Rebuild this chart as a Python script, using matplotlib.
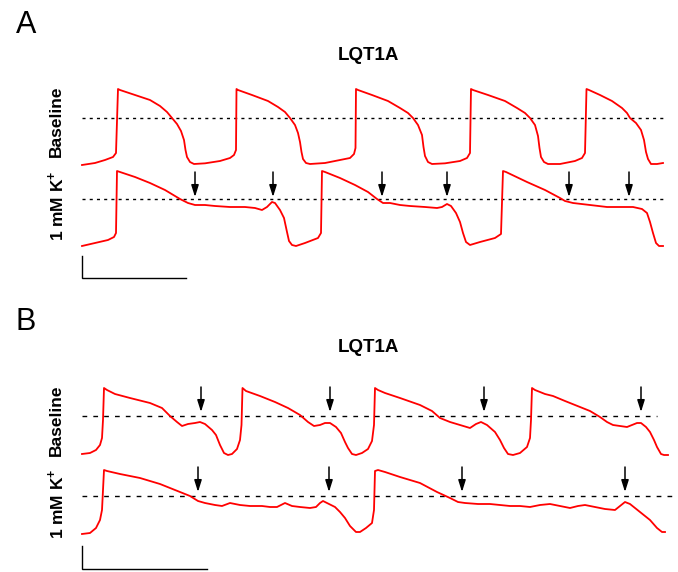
import numpy as np
import matplotlib.pyplot as plt

plt.rcParams['font.family'] = ['Liberation Sans', 'DejaVu Sans']
plt.rcParams['mathtext.fontset'] = 'custom'
plt.rcParams['mathtext.rm'] = 'Liberation Sans:bold'
plt.rcParams['mathtext.bf'] = 'Liberation Sans:bold'

# ---- data (time in ms, membrane potential in mV) ----
# Panel A, baseline
a_base_t = [0, 130, 230, 310, 340, 360, 380, 530, 680, 780, 850, 900, 950, 990, 1020, 1035, 1050, 1080,
            1120, 1230, 1380, 1480, 1520, 1540, 1545, 1560, 1700, 1860, 1960, 2030, 2080, 2130, 2160,
            2180, 2195, 2210, 2240, 2280, 2430, 2580, 2680, 2720, 2735, 2740, 2760, 2900, 3060, 3180,
            3260, 3310, 3360, 3400, 3415, 3430, 3460, 3500, 3630, 3780, 3850, 3880, 3890, 3910, 4060,
            4230, 4350, 4430, 4480, 4530, 4560, 4575, 4590, 4620, 4660, 4780, 4930, 5000, 5030, 5045,
            5070, 5180, 5300, 5400, 5450, 5480, 5540, 5590, 5620, 5640, 5660, 5690, 5750, 5810]
a_base_v = [-86.5, -83.5, -79, -74.5, -68.5, 27.5, 26, 18.5, 11, 2, -7, -16, -25, -35.5, -49, -64, -74.5, -82,
            -85, -84, -80.5, -76, -71.5, -64, 27.5, 26, 18.5, 9.5, 0.5, -7, -16, -26.5, -38.5,
            -52, -67, -77.5, -83.5, -85, -83.5, -79, -76, -70, -61, 27.5, 26, 18.5, 9.5, -1,
            -8.5, -16, -26.5, -41.5, -59.5, -73, -82, -85, -84, -80.5, -76, -68.5, 27.5, 26, 18.5,
            9.5, -1, -8.5, -16, -26.5, -43, -61, -74.5, -82, -85, -85, -80.5, -76, -68.5, 27.5,
            26, 18.5, 9.5, -1, -8.5, -16, -23.5, -34, -49, -67, -77.5, -85, -85, -83.5]

# Panel A, 1 mM K+
a_k_t = [0, 130, 260, 320, 340, 350, 380, 530, 680, 830, 930, 980, 1060, 1130, 1230, 1330, 1480, 1630,
         1730, 1800, 1850, 1900, 1930, 1980, 2020, 2050, 2070, 2100, 2140, 2230, 2360, 2390, 2400,
         2430, 2580, 2730, 2860, 2950, 3010, 3080, 3180, 3280, 3430, 3550, 3600, 3650, 3690, 3740,
         3780, 3810, 3840, 3880, 3980, 4130, 4190, 4210, 4240, 4450, 4630, 4780, 4830, 4910, 5080,
         5250, 5510, 5600, 5650, 5680, 5710, 5740, 5770, 5810]
a_k_v = [-85, -80.5, -76, -71.5, -65.5, 27.5, 26, 18.5, 9.5, -1, -10, -14.5, -20.5, -23.5, -23.5, -25, -26.5, -26.5,
         -28, -31, -26.5, -19, -20.5, -31, -43, -64, -77.5, -83.5, -85, -80.5, -73, -65.5, 27.5,
         26, 17, 6.5, -4, -14.5, -20.5, -20.5, -23.5, -25, -26.5, -28, -26.5, -22, -25, -35.5,
         -49, -65.5, -79, -83.5, -79, -73, -67, 27.5, 26, 11, -1, -13, -17.5, -20.5, -23.5,
         -26.5, -26.5, -29.5, -35.5, -49, -65.5, -80.5, -85, -85]

# Panel B, baseline
b_base_t = [0, 80, 140, 180, 200, 210, 220, 250, 330, 480, 680, 800, 880, 950, 1000, 1060, 1130, 1180,
            1230, 1300, 1340, 1380, 1420, 1460, 1500, 1550, 1580, 1595, 1605, 1640, 1780, 1930, 2060,
            2180, 2260, 2320, 2380, 2430, 2480, 2540, 2590, 2630, 2660, 2700, 2740, 2800, 2860, 2900,
            2920, 2930, 2960, 3030, 3180, 3380, 3500, 3580, 3680, 3780, 3880, 3940, 3990, 4050, 4130,
            4180, 4220, 4260, 4310, 4380, 4450, 4480, 4490, 4500, 4530, 4630, 4710, 4830, 4980, 5080,
            5180, 5250, 5310, 5380, 5450, 5500, 5550, 5590, 5640, 5680, 5720, 5750, 5790, 5820, 5860]
b_base_v = [-83.5, -82, -77.5, -70, -59.5, -32.5, 15.5, 12.5, 6.5, 0.5, -7, -14.5, -26.5, -35.5, -41.5, -38.5, -37, -35.5,
            -38.5, -47.5, -55, -70, -82, -85, -83.5, -76, -62.5, -40, 15.5, 11, 3.5, -5.5, -14.5,
            -25, -35.5, -41.5, -40, -37, -37, -43, -52, -65.5, -74.5, -83.5, -85, -82, -76, -64,
            -40, 15.5, 12.5, 8, 0.5, -10, -19, -29.5, -35.5, -40, -44.5, -38.5, -35.5, -40, -50.5,
            -62.5, -74.5, -83.5, -85, -82, -73, -59.5, -32.5, 15.5, 12.5, 6.5, 3.5, -4, -13, -19,
            -28, -35.5, -40, -41.5, -43, -40, -37, -37, -43, -50.5, -62.5, -73, -83.5, -85, -85]

# Panel B, 1 mM K+
b_k_t = [0, 80, 140, 180, 200, 210, 220, 250, 380, 580, 780, 930, 1080, 1160, 1230, 1330, 1400, 1480,
         1580, 1680, 1800, 1880, 1950, 2030, 2100, 2180, 2280, 2340, 2380, 2410, 2450, 2530, 2580,
         2630, 2680, 2740, 2780, 2840, 2900, 2920, 2930, 2960, 3030, 3180, 3380, 3550, 3680, 3760,
         3830, 3960, 4080, 4180, 4280, 4380, 4480, 4580, 4680, 4780, 4880, 4960, 5030, 5130, 5230,
         5330, 5380, 5430, 5480, 5580, 5680, 5750, 5800, 5830]
b_k_v = [-86.5, -85, -77.5, -65.5, -50.5, -20.5, 9.5, 8, 3.5, -2.5, -11.5, -20.5, -29.5, -37, -40, -43, -44.5, -40,
         -43, -44.5, -44.5, -46, -46, -40, -44.5, -46, -47.5, -46, -40, -37, -40, -46, -53.5,
         -62.5, -74.5, -83.5, -83.5, -77.5, -70, -50.5, 8, 9.5, 6.5, -1, -10, -23.5, -32.5, -38.5,
         -40, -41.5, -41.5, -43, -44.5, -44.5, -46, -43, -41.5, -44.5, -47.5, -44.5, -43, -46, -49,
         -50.5, -44.5, -38.5, -41.5, -53.5, -65.5, -77.5, -83.5, -83.5]

# arrows (times of early afterdepolarisations) and reference levels
a_base_level = -16
a_k_level = -14.5
a_k_arrows = [1130, 1910, 3000, 3650, 4870, 5470]
b_base_level = -26.5
b_base_arrows = [1190, 2480, 4020, 5590]
b_k_level = -29.5
b_k_arrows = [1160, 2470, 3800, 5430]

# ---- layout ----
W, H = 678, 572
MS_PER_PX = 10.0
MV_PER_PX = 1.5
X0_PX = 82

fig = plt.figure(figsize=(W / 100, H / 100), dpi=100)


def trace_axes(top_px, bot_px, rest_px):
    ax = fig.add_axes([0, 1 - bot_px / H, 1, (bot_px - top_px) / H])
    ax.set_xlim(-X0_PX * MS_PER_PX, (W - X0_PX) * MS_PER_PX)
    ax.set_ylim(-85 - (bot_px - rest_px) * MV_PER_PX, -85 + (rest_px - top_px) * MV_PER_PX)
    ax.axis('off')
    ax.patch.set_alpha(0)
    return ax


def draw(ax, t, v, level, t_end, dash, arrows=(), arrow_top=0, arrow_tip=0):
    ax.plot([0, t_end], [level, level], color='black', lw=1.0, ls=(0, dash))
    ax.plot(t, v, color='#ff0000', lw=1.3, solid_joinstyle='round', clip_on=False)
    for ta in arrows:
        ax.annotate('', xy=(ta, arrow_tip), xytext=(ta, arrow_top),
                    arrowprops=dict(arrowstyle='-|>,head_length=0.7,head_width=0.22',
                                    color='black', lw=1.1, shrinkA=0, shrinkB=0,
                                    mutation_scale=10),
                    annotation_clip=False)


def scale_bar(ax, v_top, v_bot, length):
    ax.plot([0, 0, length], [v_top, v_bot, v_bot], color='black', lw=1.0,
            solid_joinstyle='miter', clip_on=False)


ax1 = trace_axes(80, 170, 164)
draw(ax1, a_base_t, a_base_v, a_base_level, 5830, (2.2, 3.0))

ax2 = trace_axes(165, 285, 246)
draw(ax2, a_k_t, a_k_v, a_k_level, 5830, (2.2, 3.0), a_k_arrows, 26, -11.5)
scale_bar(ax2, -100, -133, 1040)

ax3 = trace_axes(375, 462, 455)
draw(ax3, b_base_t, b_base_v, b_base_level, 5750, (3.4, 4.4), b_base_arrows, 17, -20.5)

ax4 = trace_axes(455, 572, 533)
draw(ax4, b_k_t, b_k_v, b_k_level, 5900, (3.4, 4.4), b_k_arrows, 14, -23.5)
scale_bar(ax4, -104.5, -139, 1250)


def ftext(x, y, s, **kw):
    fig.text(x / W, 1 - y / H, s, ha='center', va='center', **kw)


ftext(26, 25, 'A', fontsize=22)
ftext(26, 322, 'B', fontsize=22)
ftext(368, 55, 'LQT1A', fontsize=13.5, fontweight='bold')
ftext(368, 347, 'LQT1A', fontsize=13.5, fontweight='bold')
for yb, yk in [(121, 206), (420, 504)]:
    ftext(56, yb, 'Baseline', fontsize=12.5, fontweight='bold', rotation=90)
    ftext(56, yk, r'1 mM K$^{+}$', fontsize=12.5, fontweight='bold', rotation=90)

fig.savefig('out.png', dpi=100)
